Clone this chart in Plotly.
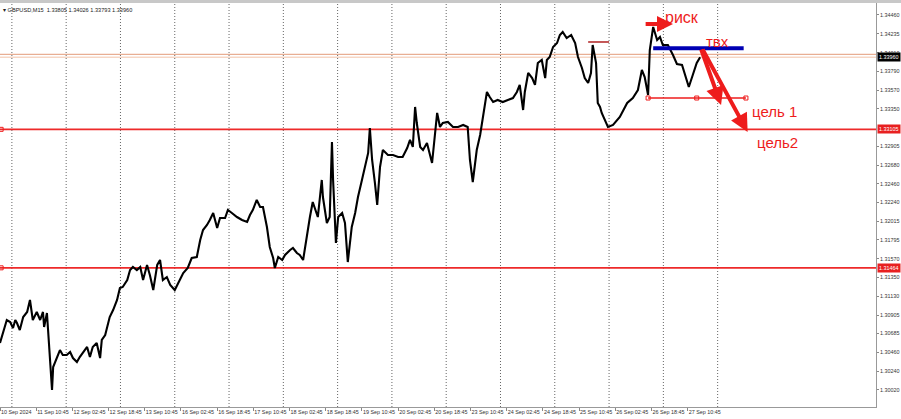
import plotly.graph_objects as go

# ---- price path (M15 bar number since 10 Sep 18:45, close price) ----
bar_index = [0, 7, 12, 18, 23, 27, 30, 35, 41, 48, 53, 58, 65, 71, 76, 78, 83, 85, 88, 92,
             94, 101, 106, 111, 118, 124, 129, 136, 141, 154, 159, 164, 171, 177, 180, 186, 189, 194, 200, 207,
             212, 217, 225, 230, 235, 242, 248, 253, 260, 265, 271, 278, 283, 288, 295, 301, 309, 315, 324, 332,
             339, 348, 354, 359, 366, 371, 377, 384, 389, 398, 403, 410, 419, 428, 437, 442, 447, 454, 460, 465,
             472, 477, 483, 486, 492, 499, 504, 513, 518, 525, 530, 536, 543, 548, 553, 560, 562, 569, 571, 578,
             583, 587, 589, 594, 598, 605, 610, 615, 622, 628, 633, 640, 645, 651, 654, 658, 663, 667, 672, 677,
             686, 695, 704, 712, 720, 725, 730, 734, 737, 743, 748, 755, 764, 767, 773, 778, 783, 792, 801, 810,
             819, 827, 831, 836, 843, 849, 854, 861, 866, 872, 880, 889, 898, 907, 914, 919, 925, 928, 934, 941,
             946, 951, 958, 964, 967, 972, 978, 985, 990, 995, 1002, 1010, 1017, 1022, 1029, 1034, 1040, 1045, 1048, 1054,
             1057, 1061, 1064, 1070, 1075, 1084, 1096, 1109, 1119, 1128, 1135, 1140, 1146, 1149, 1155, 1162, 1167, 1172, 1181, 1190,
             1197, 1206, 1211, 1218, 1225, 1232, 1238]
close_price = [1.30573, 1.30727, 1.30846, 1.30822, 1.30751, 1.30846, 1.30810, 1.30727, 1.30881, 1.30941,
               1.31083, 1.30846, 1.30941, 1.30846, 1.30941, 1.30763, 1.30929, 1.30727, 1.30407, 1.30016,
               1.30289, 1.30407, 1.30490, 1.30431, 1.30431, 1.30467, 1.30395, 1.30348, 1.30407, 1.30526,
               1.30407, 1.30526, 1.30573, 1.30395, 1.30609, 1.30668, 1.30763, 1.30881, 1.30964, 1.31083,
               1.31225, 1.31237, 1.31320, 1.31438, 1.31474, 1.31438, 1.31474, 1.31320, 1.31498, 1.31379,
               1.31201, 1.31498, 1.31557, 1.31320, 1.31355, 1.31261, 1.31201, 1.31284, 1.31403, 1.31462,
               1.31580, 1.31592, 1.31794, 1.31912, 1.31972, 1.32031, 1.32114, 1.31936, 1.32054, 1.32054,
               1.32149, 1.32114, 1.32066, 1.32031, 1.32007, 1.32090, 1.32149, 1.32268, 1.32185, 1.32185,
               1.31948, 1.31711, 1.31580, 1.31462, 1.31592, 1.31557, 1.31616, 1.31675, 1.31699, 1.31640,
               1.31616, 1.31557, 1.31877, 1.32066, 1.32244, 1.32114, 1.32066, 1.32505, 1.32303, 1.31995,
               1.32066, 1.32955, 1.32505, 1.31758, 1.32066, 1.32114, 1.31995, 1.31533, 1.31948, 1.32114,
               1.32303, 1.32505, 1.32659, 1.32825, 1.33121, 1.32742, 1.32469, 1.32209, 1.32659, 1.32860,
               1.32801, 1.32801, 1.32777, 1.32777, 1.32884, 1.32979, 1.32896, 1.33370, 1.33180, 1.32896,
               1.32860, 1.32943, 1.32706, 1.32896, 1.33299, 1.33133, 1.33180, 1.33192, 1.33133, 1.33133,
               1.33157, 1.33133, 1.32742, 1.32481, 1.32860, 1.33038, 1.33251, 1.33548, 1.33488, 1.33429,
               1.33453, 1.33429, 1.33453, 1.33476, 1.33548, 1.33631, 1.33334, 1.33548, 1.33773, 1.33713,
               1.33631, 1.33891, 1.33927, 1.33713, 1.33927, 1.33962, 1.34081, 1.34128, 1.34223, 1.34259,
               1.34187, 1.34223, 1.34128, 1.33962, 1.33832, 1.33713, 1.33654, 1.33773, 1.34104, 1.33891,
               1.33417, 1.33370, 1.33299, 1.33216, 1.33133, 1.33157, 1.33251, 1.33417, 1.33476, 1.33571,
               1.33808, 1.33725, 1.33512, 1.34045, 1.34318, 1.34164, 1.34199, 1.34104, 1.34104, 1.33986,
               1.33879, 1.33868, 1.33761, 1.33607, 1.33749, 1.33891, 1.33960]
assert len(bar_index) == len(close_price)

# ---- axes ----
x_tick_bars = [0, 64, 128, 192, 256, 320, 384, 448, 512, 576, 640, 704, 768, 832, 896, 960, 1024, 1088, 1152, 1216]
x_tick_text = ["10 Sep 2024", "11 Sep 10:45", "12 Sep 02:45", "12 Sep 18:45", "13 Sep 10:45",
               "16 Sep 02:45", "16 Sep 18:45", "17 Sep 10:45", "18 Sep 02:45", "18 Sep 18:45",
               "19 Sep 10:45", "20 Sep 02:45", "20 Sep 18:45", "23 Sep 10:45", "24 Sep 02:45",
               "24 Sep 18:45", "25 Sep 10:45", "26 Sep 02:45", "26 Sep 18:45", "27 Sep 10:45"]
day_start_bars = [21, 117, 213, 309, 405, 501, 597, 693, 789, 885, 981, 1077, 1173, 1269]
y_tick_vals = [1.34460, 1.34235, 1.34010, 1.33790, 1.33570, 1.33350, 1.32905, 1.32680,
               1.32460, 1.32240, 1.32015, 1.31795, 1.31570, 1.31350, 1.31130, 1.30905, 1.30685,
               1.30460, 1.30240, 1.30020]
y_bottom_label = 1.29790
x_range = [0, 1549]
y_range = [1.29815, 1.34602]

# ---- levels and drawn objects ----
level_upper = 1.33105
level_lower = 1.31464
bid_price = 1.33960
user_line = 1.33994
short_mark_bars = [1040, 1077]
short_mark_price = 1.34140
risk_arrow_bars = [1139, 1190]
risk_arrow_price = 1.34353
entry_bars = [1155, 1315]
entry_price = 1.34065
range_bars = [1146, 1232, 1319]
range_price = 1.33476
target1_arrow = {"from": (1239, 1.34069), "to": (1275, 1.33394)}
target2_arrow = {"from": (1241, 1.34069), "to": (1322, 1.33074)}
labels = [("риск", 1206, 1.34436, 16), ("твх", 1269, 1.34140, 15),
          ("цель 1", 1370, 1.33311, 15), ("цель2", 1375, 1.32949, 15)]

RED = "#ee1c1c"
FONT_FAMILY = "Liberation Sans, Arial, sans-serif"
AX_FONT = dict(family=FONT_FAMILY, size=5.4, color="#333333")

fig = go.Figure()

# grid (daily separators)
for b in day_start_bars:
    fig.add_shape(type="line", xref="x", yref="paper", x0=b, x1=b, y0=0, y1=1,
                  line=dict(color="#666666", width=1, dash="1px,2px"), layer="below")

# horizontal levels
for lv in (level_upper, level_lower):
    fig.add_shape(type="line", xref="paper", yref="y", x0=0, x1=1, y0=lv, y1=lv,
                  line=dict(color="#ee2a2a", width=1.6), layer="below")
fig.add_shape(type="line", xref="paper", yref="y", x0=0, x1=1, y0=user_line, y1=user_line,
              line=dict(color="#e39a78", width=1), layer="below")
fig.add_shape(type="line", xref="paper", yref="y", x0=0, x1=1, y0=bid_price, y1=bid_price,
              line=dict(color="#f2c2a8", width=1), layer="below")

# window top strip
fig.add_shape(type="rect", xref="paper", yref="paper", x0=0, x1=1.03, y0=1.0, y1=1.008,
              fillcolor="#c8c8c8", line=dict(width=0))

# level anchor points
fig.add_trace(go.Scatter(x=[2, 2], y=[level_upper, level_lower], mode="markers",
                         marker=dict(symbol="square-open", size=4, color=RED, line=dict(width=1)),
                         hoverinfo="skip", showlegend=False))

# price
fig.add_trace(go.Scatter(x=bar_index, y=close_price, mode="lines",
                         line=dict(color="#000000", width=2.1), showlegend=False))

# short dark red mark
fig.add_trace(go.Scatter(x=short_mark_bars, y=[short_mark_price] * 2, mode="lines",
                         line=dict(color="#b02020", width=1.5), showlegend=False))
# range line with anchor squares
fig.add_trace(go.Scatter(x=range_bars, y=[range_price] * 3, mode="lines+markers",
                         line=dict(color=RED, width=1.5),
                         marker=dict(symbol="square-open", size=4, color=RED, line=dict(width=1)),
                         showlegend=False))
# entry line
fig.add_trace(go.Scatter(x=entry_bars, y=[entry_price] * 2, mode="lines",
                         line=dict(color="#0000b4", width=4), showlegend=False))

# arrows
fig.add_annotation(x=risk_arrow_bars[1], y=risk_arrow_price, ax=risk_arrow_bars[0], ay=risk_arrow_price,
                   xref="x", yref="y", axref="x", ayref="y", text="", showarrow=True,
                   arrowhead=2, arrowsize=0.8, arrowwidth=4, arrowcolor=RED)
for arr in (target1_arrow, target2_arrow):
    fig.add_annotation(x=arr["to"][0], y=arr["to"][1], ax=arr["from"][0], ay=arr["from"][1],
                       xref="x", yref="y", axref="x", ayref="y", text="", showarrow=True,
                       arrowhead=2, arrowsize=0.9, arrowwidth=4, arrowcolor=RED)

for txt, bx, py, fs in labels:
    fig.add_annotation(x=bx, y=py, xref="x", yref="y", text=txt, showarrow=False,
                       font=dict(family=FONT_FAMILY, size=fs, color=RED))

# chart header
fig.add_annotation(x=0, y=1, xref="paper", yref="paper", xanchor="left", yanchor="top",
                   xshift=1, yshift=-2, showarrow=False,
                   text="▾ GBPUSD,M15  1.33805 1.34026 1.33793 1.33960",
                   font=dict(family=FONT_FAMILY, size=5.6, color="#222222"))

# price-scale boxes
for val, bg in ((level_upper, "#e82020"), (level_lower, "#e82020"), (bid_price, "#000000")):
    fig.add_annotation(x=1, y=val, xref="paper", yref="y", xanchor="left", yanchor="middle",
                       xshift=1, text=f"{val:.5f}", showarrow=False, bgcolor=bg, borderpad=1,
                       font=dict(family=FONT_FAMILY, size=5.4, color="#ffffff"))
fig.add_annotation(x=1, y=y_bottom_label, xref="paper", yref="y", xanchor="left", yanchor="middle",
                   xshift=3, text=f"{y_bottom_label:.5f}", showarrow=False, font=AX_FONT)

fig.update_layout(
    width=901, height=419,
    margin=dict(l=0, r=25, t=3, b=12, autoexpand=False),
    paper_bgcolor="#ffffff", plot_bgcolor="#ffffff",
    showlegend=False,
    xaxis=dict(range=x_range, tickmode="array", tickvals=x_tick_bars, ticktext=x_tick_text,
               ticks="outside", ticklen=3, tickcolor="#888888", ticklabelposition="outside right",
               tickangle=0, automargin=False,
               showgrid=False, zeroline=False, showline=True, linecolor="#999999", linewidth=1,
               tickfont=AX_FONT, fixedrange=True),
    yaxis=dict(range=y_range, side="right", tickmode="array", tickvals=y_tick_vals,
               ticktext=[f"{v:.5f}" for v in y_tick_vals], automargin=False,
               ticks="outside", ticklen=2, tickcolor="#888888",
               showgrid=False, zeroline=False, showline=True, linecolor="#999999", linewidth=1,
               tickfont=AX_FONT, fixedrange=True),
)

fig.write_html("out.html", config={"displayModeBar": False},
               post_script="document.body.style.margin='0';document.body.style.overflow='hidden';"
                           "document.documentElement.style.overflow='hidden';")
